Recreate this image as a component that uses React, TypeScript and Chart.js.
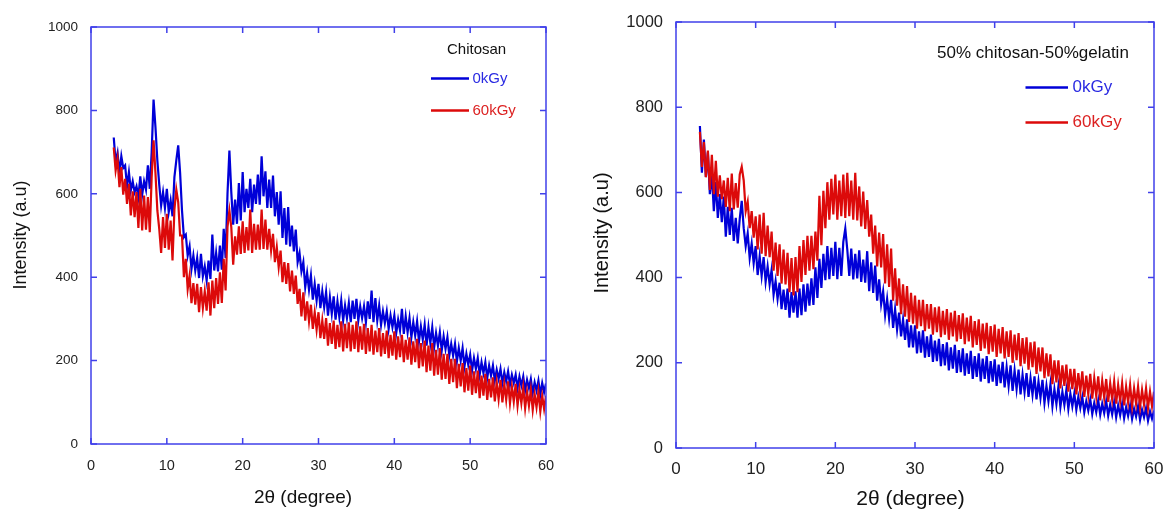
import React, { useEffect, useRef } from "react";
import { Chart, registerables } from "chart.js";

Chart.register(...registerables);

// 2θ sampling of the diffractograms (degrees)
const X_START = 3;
const X_STEP = 0.25;

// ---- Chitosan panel ----
const chitosan0kGy = [
  735, 676, 698, 650, 690, 662, 668, 618, 652, 608, 630, 604, 618, 592, 642, 598,
  630, 610, 668, 612, 700, 826, 760, 680, 622, 572, 604, 566, 612, 556, 584, 546,
  640, 680, 716, 650, 560, 496, 502, 452, 474, 420, 452, 416, 446, 398, 456, 402,
  426, 392, 440, 396, 502, 416, 458, 414, 476, 418, 516, 446, 600, 704, 604, 526,
  586, 528, 626, 536, 652, 556, 612, 566, 636, 556, 622, 576, 646, 574, 690, 594,
  654, 566, 634, 566, 644, 546, 604, 526, 606, 494, 566, 478, 568, 474, 524, 462,
  514, 436, 458, 414, 436, 376, 410, 370, 404, 346, 384, 344, 384, 326, 366, 328,
  364, 308, 352, 312, 354, 298, 342, 304, 344, 296, 332, 302, 338, 292, 344, 300,
  348, 296, 330, 302, 330, 292, 342, 300, 368, 292, 350, 296, 332, 286, 318, 290,
  318, 276, 308, 280, 308, 266, 298, 272, 324, 264, 306, 268, 302, 256, 292, 260,
  294, 246, 282, 250, 286, 236, 280, 242, 280, 232, 266, 236, 268, 224, 258, 228,
  256, 212, 240, 212, 240, 198, 230, 200, 230, 186, 216, 190, 214, 176, 206, 180,
  206, 166, 196, 170, 196, 158, 188, 164, 188, 152, 178, 156, 180, 146, 172, 150,
  174, 142, 166, 146, 166, 134, 162, 140, 162, 128, 154, 134, 156, 122, 148, 128,
  152, 118, 146, 124, 145,
];
const chitosan60kGy = [
  711, 656, 684, 616, 664, 598, 636, 576, 624, 548, 606, 544, 604, 518, 612, 512,
  596, 514, 592, 508, 640, 728, 650, 560, 516, 458, 544, 470, 552, 466, 536, 440,
  562, 610, 580, 500, 500, 400, 444, 372, 404, 338, 386, 334, 384, 316, 376, 326,
  366, 320, 388, 308, 392, 326, 398, 336, 412, 338, 444, 368, 520, 560, 520, 430,
  498, 454, 522, 456, 534, 458, 520, 464, 562, 458, 528, 466, 526, 466, 562, 468,
  538, 466, 516, 464, 504, 436, 472, 424, 464, 388, 436, 384, 434, 366, 416, 360,
  404, 336, 372, 306, 364, 296, 342, 294, 334, 276, 316, 274, 316, 254, 296, 252,
  302, 236, 290, 240, 296, 228, 286, 232, 294, 222, 288, 230, 292, 222, 286, 228,
  294, 220, 282, 226, 288, 216, 278, 222, 286, 214, 272, 220, 278, 210, 266, 216,
  272, 206, 262, 212, 270, 202, 258, 208, 262, 196, 250, 202, 256, 190, 246, 196,
  252, 182, 242, 186, 248, 172, 236, 176, 242, 164, 226, 166, 230, 154, 216, 156,
  216, 144, 204, 148, 204, 134, 192, 138, 194, 124, 182, 128, 188, 118, 174, 122,
  176, 110, 164, 116, 168, 106, 156, 112, 160, 102, 148, 108, 154, 100, 144, 106,
  150, 98, 138, 102, 144, 92, 132, 98, 136, 86, 126, 92, 130, 82, 120, 88,
  126, 78, 116, 84, 116,
];

// ---- 50% chitosan-50% gelatin panel ----
const blend0kGy = [
  756, 646, 724, 636, 694, 596, 644, 556, 624, 540, 596, 530, 590, 496, 566, 500,
  564, 486, 540, 480, 538, 580, 516, 474, 504, 446, 480, 434, 474, 406, 450, 404,
  448, 390, 426, 384, 418, 360, 392, 350, 388, 326, 372, 324, 374, 306, 366, 318,
  368, 306, 374, 312, 384, 320, 386, 334, 398, 336, 424, 352, 444, 376, 456, 394,
  474, 396, 470, 404, 484, 396, 470, 404, 484, 515, 466, 404, 468, 396, 456, 398,
  464, 390, 442, 388, 462, 368, 436, 364, 428, 346, 396, 338, 368, 312, 350, 304,
  348, 282, 326, 278, 318, 262, 302, 254, 302, 236, 288, 236, 288, 222, 274, 224,
  276, 212, 262, 214, 266, 202, 252, 204, 256, 192, 244, 194, 248, 182, 236, 186,
  242, 176, 230, 178, 234, 170, 222, 174, 228, 162, 216, 167, 222, 156, 210, 162,
  216, 152, 204, 156, 208, 146, 196, 152, 202, 142, 190, 146, 194, 134, 182, 138,
  184, 126, 172, 131, 176, 120, 164, 125, 168, 114, 156, 118, 160, 106, 146, 110,
  150, 98, 138, 103, 144, 96, 132, 101, 136, 92, 128, 98, 128, 90, 120, 94,
  120, 84, 110, 88, 114, 80, 106, 84, 112, 78, 104, 82, 110, 76, 102, 79,
  108, 72, 100, 77, 104, 70, 96, 75, 100, 68, 92, 74, 98, 66, 90, 72,
  94, 64, 86, 69, 88,
];
const blend60kGy = [
  742, 660, 718, 636, 698, 606, 688, 596, 674, 590, 640, 584, 628, 566, 634, 556,
  644, 560, 622, 564, 642, 660, 628, 556, 578, 516, 556, 494, 544, 466, 548, 456,
  552, 450, 522, 448, 508, 416, 482, 404, 478, 386, 466, 384, 458, 366, 446, 358,
  448, 366, 474, 390, 488, 406, 498, 416, 498, 420, 508, 440, 592, 476, 604, 516,
  624, 536, 632, 548, 642, 536, 628, 544, 642, 540, 646, 544, 628, 536, 646, 534,
  614, 520, 602, 514, 582, 496, 548, 456, 522, 426, 506, 424, 502, 386, 478, 378,
  468, 346, 422, 334, 398, 314, 384, 308, 380, 296, 364, 292, 358, 280, 348, 286,
  348, 274, 338, 280, 338, 266, 330, 272, 332, 260, 322, 266, 326, 254, 318, 262,
  322, 250, 312, 256, 316, 244, 306, 250, 310, 236, 298, 242, 302, 228, 292, 234,
  294, 220, 286, 226, 290, 214, 280, 222, 284, 210, 274, 214, 276, 200, 266, 206,
  270, 192, 258, 198, 260, 184, 248, 190, 250, 174, 236, 180, 236, 164, 222, 168,
  220, 150, 206, 154, 206, 140, 194, 146, 196, 132, 186, 138, 186, 126, 176, 132,
  180, 120, 170, 126, 174, 116, 164, 122, 168, 112, 158, 118, 162, 108, 152, 114,
  156, 104, 148, 110, 152, 100, 144, 107, 148, 98, 140, 104, 144, 96, 136, 102,
  140, 94, 132, 98, 132,
];

const xTickValues = [0, 10, 20, 30, 40, 50, 60];
const yTickValues = [0, 200, 400, 600, 800, 1000];
const seriesLabels = ["0kGy", "60kGy"];
const panelTitles = ["Chitosan", "50% chitosan-50%gelatin"];
const xAxisTitle = "2θ (degree)";
const yAxisTitle = "Intensity (a.u)";

const BLUE = "#0000d8";
const RED = "#dc0a0a";
const FRAME = "#4040ea";
const FONT = "'Liberation Sans', Arial, sans-serif";

function toPoints(values: number[]) {
  return values.map((y, i) => ({ x: X_START + i * X_STEP, y }));
}

type Panel = {
  blue: number[];
  red: number[];
  title: string;
  padTop: number;
  padRight: number;
  yWidth: number;
  xHeight: number;
  xTickFont: number;
  yTickFont: number;
  xTickPad: number;
  yTickPad: number;
  yTitle: { x: number; y: number; size: number };
  xTitle: { x: number; y: number; size: number };
  legend: {
    titleX: number;
    titleY: number;
    size: number;
    lineX0: number;
    lineX1: number;
    textX: number;
    row1: number;
    row2: number;
  };
};

const leftPanel: Panel = {
  blue: chitosan0kGy,
  red: chitosan60kGy,
  title: panelTitles[0],
  padTop: 27,
  padRight: 34,
  yWidth: 91,
  xHeight: 68,
  xTickFont: 14.5,
  yTickFont: 13.5,
  xTickPad: 13,
  yTickPad: 13,
  yTitle: { x: 21.5, y: 235, size: 18 },
  xTitle: { x: 303, y: 498, size: 19 },
  legend: { titleX: 447, titleY: 50, size: 15, lineX0: 431, lineX1: 469, textX: 472.5, row1: 78.5, row2: 110.5 },
};

const rightPanel: Panel = {
  blue: blend0kGy,
  red: blend60kGy,
  title: panelTitles[1],
  padTop: 22,
  padRight: 11,
  yWidth: 91,
  xHeight: 64,
  xTickFont: 17,
  yTickFont: 16.5,
  xTickPad: 11,
  yTickPad: 13,
  yTitle: { x: 17, y: 233, size: 20 },
  xTitle: { x: 325.5, y: 499, size: 21 },
  legend: { titleX: 352, titleY: 53.5, size: 17, lineX0: 440.5, lineX1: 483, textX: 487.5, row1: 87.5, row2: 122.5 },
};

function makeDecor(p: Panel) {
  return {
    id: "decor",
    afterDraw(chart: any) {
      const { ctx, chartArea: a, scales } = chart;
      ctx.save();
      ctx.strokeStyle = FRAME;
      ctx.lineWidth = 1.5;
      ctx.strokeRect(a.left, a.top, a.right - a.left, a.bottom - a.top);
      const TL = 6;
      ctx.beginPath();
      for (const t of xTickValues) {
        const px = scales.x.getPixelForValue(t);
        ctx.moveTo(px, a.bottom);
        ctx.lineTo(px, a.bottom - TL);
        ctx.moveTo(px, a.top);
        ctx.lineTo(px, a.top + TL);
      }
      for (const t of yTickValues) {
        const py = scales.y.getPixelForValue(t);
        ctx.moveTo(a.left, py);
        ctx.lineTo(a.left + TL, py);
        ctx.moveTo(a.right, py);
        ctx.lineTo(a.right - TL, py);
      }
      ctx.stroke();

      ctx.fillStyle = "#111";
      ctx.textAlign = "center";
      ctx.textBaseline = "middle";
      ctx.font = `${p.xTitle.size}px ${FONT}`;
      ctx.fillText(xAxisTitle, p.xTitle.x, p.xTitle.y);
      ctx.save();
      ctx.translate(p.yTitle.x, p.yTitle.y);
      ctx.rotate(-Math.PI / 2);
      ctx.font = `${p.yTitle.size}px ${FONT}`;
      ctx.fillText(yAxisTitle, 0, 0);
      ctx.restore();

      const L = p.legend;
      ctx.textAlign = "left";
      ctx.font = `${L.size}px ${FONT}`;
      ctx.fillStyle = "#111";
      ctx.fillText(p.title, L.titleX, L.titleY);
      ctx.lineWidth = 2.5;
      ctx.strokeStyle = BLUE;
      ctx.beginPath();
      ctx.moveTo(L.lineX0, L.row1);
      ctx.lineTo(L.lineX1, L.row1);
      ctx.stroke();
      ctx.fillStyle = "#2a2ae2";
      ctx.fillText(seriesLabels[0], L.textX, L.row1);
      ctx.strokeStyle = RED;
      ctx.beginPath();
      ctx.moveTo(L.lineX0, L.row2);
      ctx.lineTo(L.lineX1, L.row2);
      ctx.stroke();
      ctx.fillStyle = "#dc2222";
      ctx.fillText(seriesLabels[1], L.textX, L.row2);
      ctx.restore();
    },
  };
}

function buildChart(canvas: HTMLCanvasElement, p: Panel) {
  return new Chart(canvas, {
    type: "line",
    data: {
      datasets: [
        {
          label: seriesLabels[0],
          data: toPoints(p.blue),
          borderColor: BLUE,
          borderWidth: 2.2,
          pointRadius: 0,
          tension: 0,
          order: 1,
        },
        {
          label: seriesLabels[1],
          data: toPoints(p.red),
          borderColor: RED,
          borderWidth: 2.2,
          pointRadius: 0,
          tension: 0,
          order: 0,
        },
      ],
    },
    options: {
      animation: false,
      responsive: false,
      maintainAspectRatio: false,
      events: [],
      layout: { padding: { top: p.padTop, right: p.padRight, left: 0, bottom: 0 } },
      plugins: { legend: { display: false }, tooltip: { enabled: false }, title: { display: false } },
      scales: {
        x: {
          type: "linear",
          min: 0,
          max: 60,
          grid: { display: false, drawTicks: false },
          border: { display: false },
          afterFit: (s: any) => {
            s.height = p.xHeight;
            s.paddingLeft = 0;
            s.paddingRight = 0;
          },
          afterBuildTicks: (s: any) => {
            s.ticks = xTickValues.map((v) => ({ value: v }));
          },
          ticks: {
            padding: p.xTickPad,
            color: "#222",
            maxRotation: 0,
            callback: (v: any) => String(v),
            font: { family: FONT, size: p.xTickFont },
          },
        },
        y: {
          type: "linear",
          min: 0,
          max: 1000,
          grid: { display: false, drawTicks: false },
          border: { display: false },
          afterFit: (s: any) => {
            s.width = p.yWidth;
            s.paddingTop = 0;
            s.paddingBottom = 0;
          },
          afterBuildTicks: (s: any) => {
            s.ticks = yTickValues.map((v) => ({ value: v }));
          },
          ticks: {
            padding: p.yTickPad,
            color: "#222",
            callback: (v: any) => String(v),
            font: { family: FONT, size: p.yTickFont },
          },
        },
      },
    },
    plugins: [makeDecor(p)],
  } as any);
}

export default function App() {
  const leftRef = useRef<HTMLCanvasElement>(null);
  const rightRef = useRef<HTMLCanvasElement>(null);

  useEffect(() => {
    const c1 = buildChart(leftRef.current!, leftPanel);
    const c2 = buildChart(rightRef.current!, rightPanel);
    return () => {
      c1.destroy();
      c2.destroy();
    };
  }, []);

  return (
    <div style={{ position: "absolute", left: 0, top: 0, width: 1165, height: 512, background: "#fff" }}>
      <canvas
        ref={leftRef}
        width={580}
        height={512}
        style={{ position: "absolute", left: 0, top: 0, width: 580, height: 512 }}
      />
      <canvas
        ref={rightRef}
        width={580}
        height={512}
        style={{ position: "absolute", left: 585, top: 0, width: 580, height: 512 }}
      />
    </div>
  );
}
